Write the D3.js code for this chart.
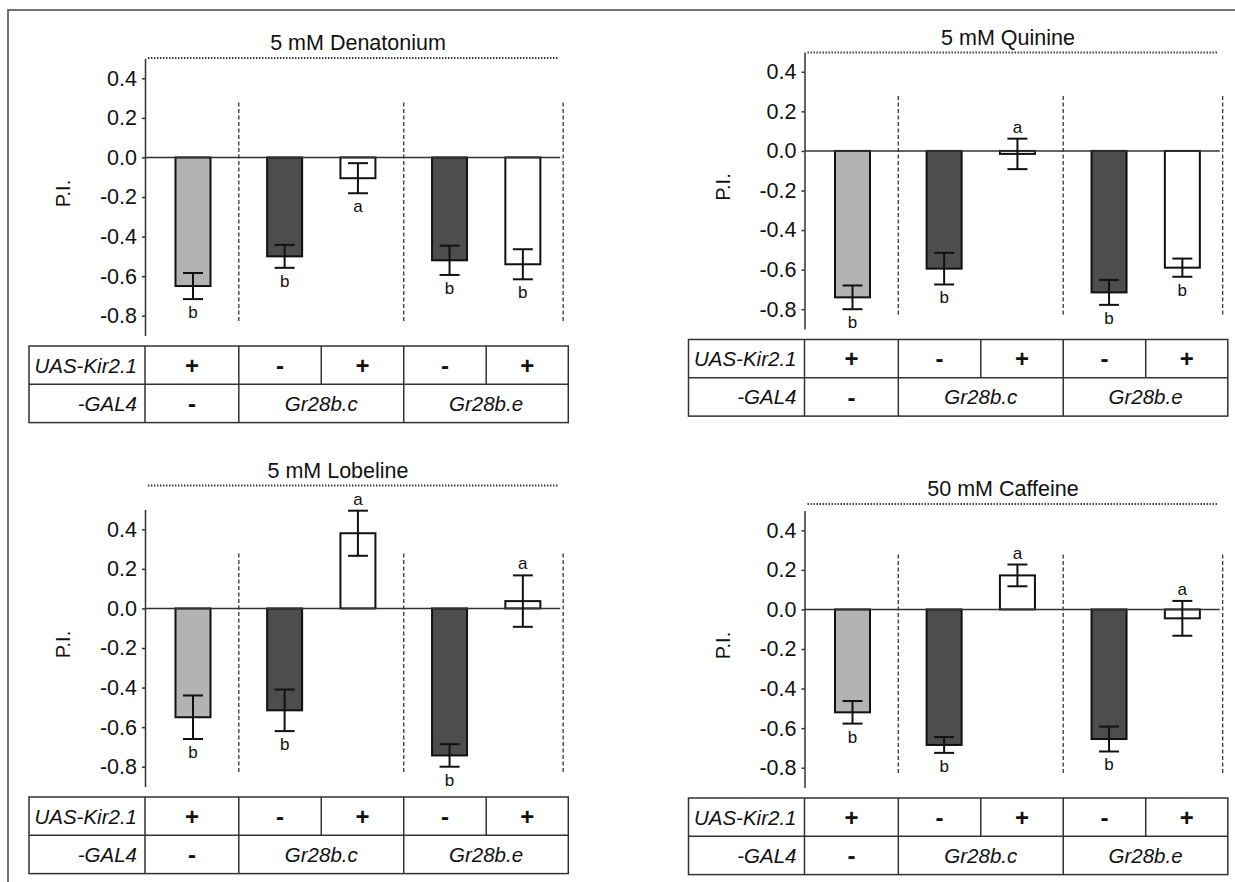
<!DOCTYPE html>
<html>
<head>
<meta charset="utf-8">
<script src="https://cdn.jsdelivr.net/npm/d3@7"></script>
<style>
  html, body { margin: 0; padding: 0; background: #fff; }
  svg { display: block; font-family: "Liberation Sans", Arial, Helvetica, sans-serif; }
</style>
</head>
<body>
<div id="chart"></div>
<script>
// genotype columns, left to right
const genotypes = ["ctrl", "c-", "c+", "e-", "e+"];
const genotypeGroup = [0, 1, 1, 2, 2];
const kirRow = ["+", "-", "+", "-", "+"];
const gal4Row = ["-", "Gr28b.c", "Gr28b.e"];
const rowLabels = ["UAS-Kir2.1", "-GAL4"];
const yTicks = [0.4, 0.2, 0.0, -0.2, -0.4, -0.6, -0.8];

const titles = ["5 mM Denatonium", "5 mM Quinine", "5 mM Lobeline", "50 mM Caffeine"];

const denatoniumMean = [-0.65, -0.50, -0.105, -0.52, -0.54];
const denatoniumErr = [0.066, 0.058, 0.076, 0.074, 0.076];
const denatoniumLetters = ["b", "b", "a", "b", "b"];

const quinineMean = [-0.74, -0.595, -0.015, -0.715, -0.59];
const quinineErr = [0.06, 0.08, 0.077, 0.063, 0.046];
const quinineLetters = ["b", "b", "a", "b", "b"];

const lobelineMean = [-0.55, -0.515, 0.38, -0.743, 0.037];
const lobelineErr = [0.11, 0.105, 0.114, 0.057, 0.13];
const lobelineLetters = ["b", "b", "a", "b", "a"];

const caffeineMean = [-0.52, -0.685, 0.172, -0.655, -0.045];
const caffeineErr = [0.057, 0.04, 0.055, 0.063, 0.088];
const caffeineLetters = ["b", "b", "a", "b", "a"];

const panelMeans = [denatoniumMean, quinineMean, lobelineMean, caffeineMean];
const panelErrs = [denatoniumErr, quinineErr, lobelineErr, caffeineErr];
const panelLetters = [denatoniumLetters, quinineLetters, lobelineLetters, caffeineLetters];

// layout (pixels) for each panel: axis x, plot top, dotted-line y, title centre x
const layout = [
  { x0: 145, top: 58.5, lineY: 58, titleX: 358 },
  { x0: 804.5, top: 52, lineY: 52.5, titleX: 1008 },
  { x0: 145, top: 509.5, lineY: 485.5, titleX: 338 },
  { x0: 804.5, top: 510.5, lineY: 504, titleX: 1003 }
];

const fillByGenotype = { "ctrl": "#b3b3b3", "c-": "#4d4d4d", "c+": "#ffffff", "e-": "#4d4d4d", "e+": "#ffffff" };

const W = 1235, H = 882;
const plotH = 277, barW = 35, capW = 20, rowH = 38.3;

const svg = d3.select("#chart").append("svg")
  .attr("width", W).attr("height", H);

// frame
svg.append("path")
  .attr("d", `M8,${H}V10H${W}`)
  .attr("fill", "none").attr("stroke", "#444").attr("stroke-width", 1.5);

// unit position of each bar: one unit per bar plus a quarter gap between groups
const unitPos = genotypes.map((g, i) => i + 0.25 * genotypeGroup[i]);

layout.forEach((L, p) => {
  const means = panelMeans[p], errs = panelErrs[p], letters = panelLetters[p];
  const g = svg.append("g");

  const y = d3.scaleLinear().domain([-0.9, 0.5]).range([L.top + plotH, L.top]);
  const u = d3.scaleLinear().domain([0, 1]).range([L.x0 + 48, L.x0 + 48 + 73.3]);

  // group separators and in-group dividers
  const seps = [], mids = [];
  for (let i = 0; i < genotypes.length - 1; i++) {
    const m = (unitPos[i] + unitPos[i + 1]) / 2;
    if (genotypeGroup[i] !== genotypeGroup[i + 1]) seps.push(m); else mids.push(m);
  }
  const lastPos = unitPos[unitPos.length - 1];

  // title and dotted line
  g.append("text")
    .attr("x", L.titleX).attr("y", L.lineY - 8)
    .attr("text-anchor", "middle").attr("font-size", 21.5).attr("fill", "#111")
    .text(titles[p]);
  g.append("line")
    .attr("x1", L.x0 + 3).attr("x2", L.x0 + 413)
    .attr("y1", L.lineY).attr("y2", L.lineY)
    .attr("stroke", "#333").attr("stroke-width", 2).attr("stroke-dasharray", "1.4,1.6");

  // dashed vertical separators
  g.selectAll("line.sep")
    .data(seps.concat([lastPos + 0.55]))
    .join("line")
    .attr("class", "sep")
    .attr("x1", d => u(d)).attr("x2", d => u(d))
    .attr("y1", L.top + 44).attr("y2", L.top + 264)
    .attr("stroke", "#444").attr("stroke-width", 1.4).attr("stroke-dasharray", "4,2.5");

  // bars
  g.selectAll("rect.bar")
    .data(means)
    .join("rect")
    .attr("class", "bar")
    .attr("x", (d, i) => u(unitPos[i]) - barW / 2)
    .attr("width", barW)
    .attr("y", d => y(Math.max(0, d)))
    .attr("height", d => Math.abs(y(d) - y(0)))
    .attr("fill", (d, i) => fillByGenotype[genotypes[i]])
    .attr("stroke", "#111").attr("stroke-width", 2);

  // zero line
  g.append("line")
    .attr("x1", L.x0).attr("x2", u(lastPos + 0.51))
    .attr("y1", y(0)).attr("y2", y(0))
    .attr("stroke", "#333").attr("stroke-width", 1.5);

  // error bars
  means.forEach((m, i) => {
    const cx = u(unitPos[i]);
    const lo = y(m - errs[i]), hi = y(m + errs[i]);
    const eb = g.append("g").attr("stroke", "#111").attr("stroke-width", 2);
    eb.append("line").attr("x1", cx).attr("x2", cx).attr("y1", lo).attr("y2", hi);
    eb.append("line").attr("x1", cx - capW / 2).attr("x2", cx + capW / 2).attr("y1", lo).attr("y2", lo);
    eb.append("line").attr("x1", cx - capW / 2).attr("x2", cx + capW / 2).attr("y1", hi).attr("y2", hi);
    const above = m + errs[i] > 0;
    g.append("text")
      .attr("x", cx)
      .attr("y", above ? hi - 6 : lo + 19)
      .attr("text-anchor", "middle").attr("font-size", 17).attr("fill", "#111")
      .text(letters[i]);
  });

  // y axis
  const axis = g.append("g")
    .attr("transform", `translate(${L.x0},0)`)
    .call(d3.axisLeft(y).tickValues(yTicks).tickSize(3).tickSizeOuter(0).tickPadding(5)
      .tickFormat(d => d.toFixed(1)));
  axis.select(".domain").attr("stroke", "#333").attr("stroke-width", 1.5);
  axis.selectAll(".tick line").attr("stroke", "#333").attr("stroke-width", 1.5);
  axis.selectAll(".tick text")
    .attr("font-size", 21.5).attr("fill", "#111")
    .attr("font-family", "\"Liberation Sans\", Arial, sans-serif");

  g.append("text")
    .attr("transform", `translate(${L.x0 - 75},${L.top + 135}) rotate(-90)`)
    .attr("text-anchor", "middle").attr("font-size", 20).attr("fill", "#111")
    .text("P.I.");

  // genotype table
  const tTop = L.top + plotH + 10.5;
  const tLeft = L.x0 - 116, tRight = u(lastPos + 0.62);
  const t = g.append("g").attr("fill", "none").attr("stroke", "#333").attr("stroke-width", 1.5);
  t.append("rect").attr("x", tLeft).attr("y", tTop).attr("width", tRight - tLeft).attr("height", rowH * 2);
  t.append("line").attr("x1", tLeft).attr("x2", tRight).attr("y1", tTop + rowH).attr("y2", tTop + rowH);

  const row1Edges = [L.x0].concat(seps.concat(mids).sort((a, b) => a - b).map(u), [tRight]);
  const row2Edges = [L.x0].concat(seps.map(u), [tRight]);
  row1Edges.slice(0, -1).forEach(x => {
    t.append("line").attr("x1", x).attr("x2", x).attr("y1", tTop).attr("y2", tTop + rowH);
  });
  row2Edges.slice(0, -1).forEach(x => {
    t.append("line").attr("x1", x).attr("x2", x).attr("y1", tTop + rowH).attr("y2", tTop + 2 * rowH);
  });

  rowLabels.forEach((lab, r) => {
    g.append("text")
      .attr("x", L.x0 - 8).attr("y", tTop + rowH * (r + 0.5)).attr("dy", "0.36em")
      .attr("text-anchor", "end").attr("font-size", 20.5).attr("font-style", "italic").attr("fill", "#111")
      .text(lab);
  });

  kirRow.forEach((s, i) => {
    g.append("text")
      .attr("x", (row1Edges[i] + row1Edges[i + 1]) / 2)
      .attr("y", tTop + rowH * 0.5).attr("dy", "0.36em")
      .attr("text-anchor", "middle").attr("font-size", 24).attr("font-weight", "bold").attr("fill", "#111")
      .text(s);
  });

  gal4Row.forEach((s, i) => {
    const isSign = s === "-";
    g.append("text")
      .attr("x", (row2Edges[i] + row2Edges[i + 1]) / 2)
      .attr("y", tTop + rowH * 1.5).attr("dy", "0.36em")
      .attr("text-anchor", "middle")
      .attr("font-size", isSign ? 24 : 20.5)
      .attr("font-weight", isSign ? "bold" : "normal")
      .attr("font-style", isSign ? "normal" : "italic")
      .attr("fill", "#111")
      .text(s);
  });
});
</script>
</body>
</html>
